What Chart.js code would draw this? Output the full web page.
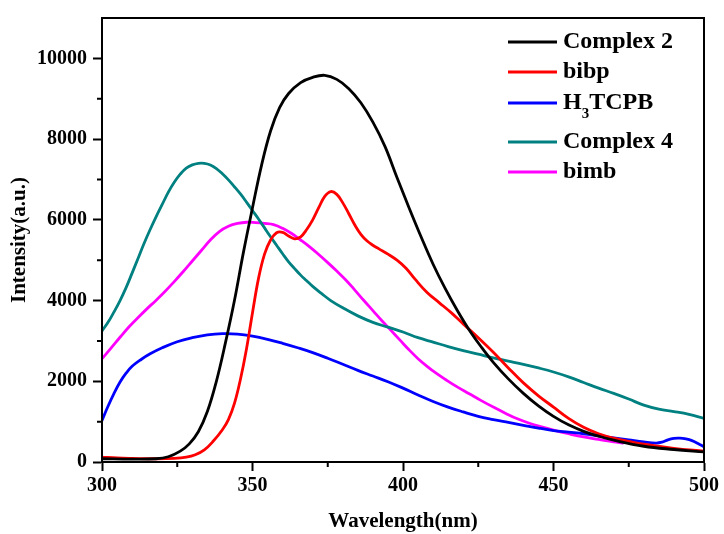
<!DOCTYPE html>
<html><head><meta charset="utf-8">
<script src="https://cdn.jsdelivr.net/npm/chart.js@4.4.0/dist/chart.umd.min.js"></script>
<style>html,body{margin:0;padding:0;background:#fff}</style>
</head><body>
<canvas id="c" width="724" height="534"></canvas>
<script>
// ---- data ----
const seriesLabels = ['Complex 2', 'bibp', 'H₃TCPB', 'Complex 4', 'bimb'];
const seriesColors = ['#000000', '#ff0000', '#0000ff', '#008080', '#ff00ff'];

const complex2Wl  = [300,310,318,322,326,329,332,335,338,341,344,347,350,353,356,359,362,366,370,374,378,382,386,390,394,398,402,406,410,414,418,422,426,430,435,440,445,450,455,460,465,470,480,490,500];
const complex2Int = [80,70,80,130,270,450,750,1250,2000,2950,4000,5200,6300,7350,8200,8780,9130,9400,9530,9580,9480,9250,8900,8420,7820,7050,6300,5580,4900,4300,3760,3270,2850,2470,2060,1700,1390,1130,920,760,640,540,390,310,250];

const bibpWl  = [300,305,310,318,324,328,331,334,337,340,342,344,346,348,350,352,354,356,358,360,362,364,366,368,370,372,374,376,378,380,382,384,386,388,390,392,395,398,401,404,408,412,416,420,425,430,435,440,445,450,455,460,465,470,475,480,490,500];
const bibpInt = [120,100,90,80,90,120,180,300,520,800,1050,1450,2050,2800,3700,4550,5150,5500,5680,5690,5600,5530,5580,5760,6000,6300,6580,6700,6630,6420,6150,5870,5640,5480,5370,5280,5150,5000,4800,4530,4200,3950,3700,3420,3080,2720,2330,1960,1640,1360,1080,860,700,590,510,440,340,270];

const h3tcpbWl  = [300,302,304,306,308,310,313,316,320,325,330,335,340,345,350,355,360,365,370,375,380,385,390,395,400,405,410,415,420,425,430,435,440,445,450,455,460,465,470,475,480,484,486,488,490,492,494,496,498,500];
const h3tcpbInt = [1030,1380,1700,1980,2200,2370,2540,2680,2830,2980,3080,3150,3180,3170,3120,3040,2940,2830,2710,2570,2420,2270,2130,1990,1830,1660,1500,1360,1240,1130,1050,980,910,840,780,740,700,650,600,550,500,470,490,550,585,590,570,530,460,380];

const complex4Wl  = [300,302,304,306,308,310,312,314,316,318,320,322,324,326,328,330,332,334,336,338,340,342,344,346,348,350,352,354,356,358,360,362,364,366,368,370,373,376,380,385,390,395,400,405,410,415,420,425,430,435,440,445,450,455,460,465,470,475,480,485,490,495,500];
const complex4Int = [3250,3460,3720,4000,4320,4680,5050,5420,5760,6080,6380,6680,6930,7130,7280,7360,7400,7400,7360,7270,7140,6990,6820,6640,6440,6230,6020,5800,5580,5370,5160,4960,4790,4630,4490,4350,4170,4000,3820,3620,3460,3340,3220,3080,2970,2860,2760,2670,2580,2500,2420,2330,2230,2110,1970,1830,1700,1560,1410,1310,1250,1180,1080];

const bimbWl  = [300,303,306,309,312,315,318,321,324,327,330,333,336,339,342,345,348,351,354,357,360,363,366,369,372,375,378,381,384,387,390,393,396,399,402,405,408,411,414,418,422,426,430,434,438,442,446,450,455,460,465,470,473];
const bimbInt = [2560,2820,3090,3350,3580,3800,4010,4230,4470,4720,4980,5240,5500,5710,5840,5910,5940,5930,5910,5880,5790,5660,5500,5330,5140,4940,4730,4510,4260,4000,3750,3500,3260,3020,2780,2560,2370,2200,2050,1860,1690,1520,1360,1210,1070,960,870,790,700,620,560,500,470];

const xTicks = [300, 350, 400, 450, 500];
const xMinorTicks = [325, 375, 425, 475];
const yTicks = [0, 2000, 4000, 6000, 8000, 10000];
const yMinorTicks = [1000, 3000, 5000, 7000, 9000];

// ---- build datasets ----
const wlSets = [complex2Wl, bibpWl, h3tcpbWl, complex4Wl, bimbWl];
const intSets = [complex2Int, bibpInt, h3tcpbInt, complex4Int, bimbInt];
const datasets = seriesLabels.map((lab, i) => ({
  label: lab,
  data: wlSets[i].map((w, k) => ({x: w, y: intSets[i][k]})),
  borderColor: seriesColors[i],
  backgroundColor: seriesColors[i],
  borderWidth: 2.8,
  pointRadius: 0,
  fill: false,
  tension: 0.4,
  borderJoinStyle: 'round',
  borderCapStyle: 'round'
}));

const FONT = "'Liberation Serif', 'Times New Roman', serif";

const framePlugin = {
  id: 'frame',
  afterDraw(chart) {
    const {ctx, chartArea: a, scales: {x, y}} = chart;
    ctx.save();
    ctx.strokeStyle = '#000';
    ctx.lineWidth = 2;
    ctx.beginPath();
    xMinorTicks.forEach(v => { const px = x.getPixelForValue(v); ctx.moveTo(px, a.bottom); ctx.lineTo(px, a.bottom + 5); });
    yMinorTicks.forEach(v => { const py = y.getPixelForValue(v); ctx.moveTo(a.left, py); ctx.lineTo(a.left - 5, py); });
    ctx.stroke();
    ctx.strokeRect(a.left, a.top, a.right - a.left, a.bottom - a.top);

    // legend
    const rowsY = [42, 72, 103, 142, 172];
    const lx0 = a.right - 196, lx1 = a.right - 147, tx = a.right - 141;
    ctx.textBaseline = 'middle';
    ctx.textAlign = 'left';
    chart.data.datasets.forEach((ds, i) => {
      const yy = rowsY[i];
      ctx.strokeStyle = ds.borderColor;
      ctx.lineWidth = 3;
      ctx.beginPath(); ctx.moveTo(lx0, yy); ctx.lineTo(lx1, yy); ctx.stroke();
      ctx.fillStyle = '#000';
      let cx = tx;
      for (const ch of ds.label) {
        const code = ch.charCodeAt(0);
        if (code >= 0x2080 && code <= 0x2089) {
          const d = String(code - 0x2080);
          ctx.font = 'bold 15px ' + FONT;
          ctx.fillText(d, cx, yy + 11);
          cx += ctx.measureText(d).width;
        } else {
          ctx.font = 'bold 24px ' + FONT;
          ctx.fillText(ch, cx, yy);
          cx += ctx.measureText(ch).width;
        }
      }
    });
    ctx.restore();
  }
};

new Chart(document.getElementById('c'), {
  type: 'line',
  data: { datasets },
  options: {
    responsive: false,
    animation: false,
    layout: { padding: { top: 15, right: 20, left: 0, bottom: 0 } },
    plugins: { legend: { display: false }, tooltip: { enabled: false } },
    scales: {
      x: {
        type: 'linear', min: 300, max: 500,
        afterFit(s) { s.height = 72; },
        afterBuildTicks(s) { s.ticks = xTicks.map(v => ({value: v})); },
        grid: { display: true, drawOnChartArea: false, drawTicks: true, tickLength: 9, tickWidth: 2, tickColor: '#000' },
        border: { display: true, color: '#000', width: 2 },
        ticks: { color: '#000', padding: 3, maxRotation: 0, callback: v => String(v), font: { family: FONT, size: 20, weight: 'bold' } },
        title: { display: true, text: 'Wavelength(nm)', color: '#000', padding: { top: 0, bottom: 0 }, font: { family: FONT, size: 21, weight: 'bold' } }
      },
      y: {
        type: 'linear', min: 0, max: 11000,
        afterFit(s) { s.width = 102; },
        afterBuildTicks(s) { s.ticks = yTicks.map(v => ({value: v})); },
        grid: { display: true, drawOnChartArea: false, drawTicks: true, tickLength: 9, tickWidth: 2, tickColor: '#000' },
        border: { display: true, color: '#000', width: 2 },
        ticks: { color: '#000', padding: 6, callback: v => String(v), font: { family: FONT, size: 20, weight: 'bold' } },
        title: { display: true, text: 'Intensity(a.u.)', color: '#000', padding: { top: 7, bottom: 0 }, font: { family: FONT, size: 21, weight: 'bold' } }
      }
    }
  },
  plugins: [framePlugin]
});
</script>
</body></html>
